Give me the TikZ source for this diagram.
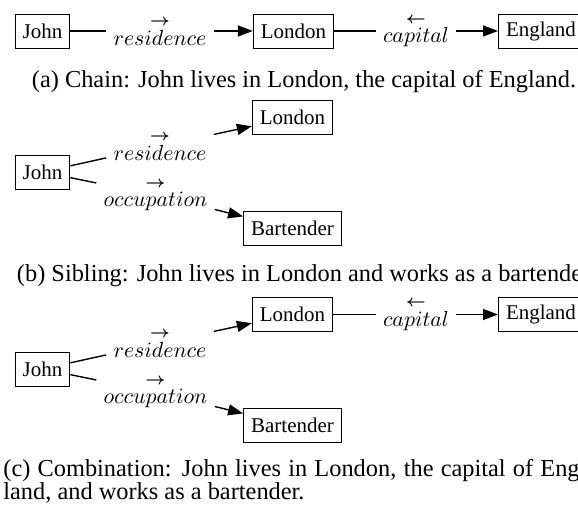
\documentclass[tikz,border=0pt]{standalone}
\usepackage{amsmath}
\usepackage{fontspec}
\setmainfont{Liberation Serif}
\usetikzlibrary{arrows.meta}

\newcommand{\fwd}{\text{\fontsize{8.5}{9}\selectfont$\boldsymbol{\rightarrow}$}}
\newcommand{\bwd}{\text{\fontsize{8.5}{9}\selectfont$\boldsymbol{\leftarrow}$}}

\begin{document}
\begin{tikzpicture}[
    entity/.style={draw,line width=0.45pt,inner xsep=3.8pt,minimum height=17pt,font=\fontsize{10.5}{12}\selectfont},
    relation/.style={inner sep=3.5pt,font=\fontsize{10.5}{12}\selectfont},
    link/.style={line width=0.7pt},
    linkto/.style={line width=0.7pt,-{Triangle[length=7.5pt,width=5.5pt]}},
    caption/.style={anchor=base,inner sep=0pt,font=\fontsize{12.2}{12}\selectfont}]

  \def\f{*0.0176}

  \clip (0,0) rectangle (578\f,-508\f);

  \node[entity] (johnA) at (42.5\f,-31\f) {John};
  \node[relation] (resA) at (160\f,-31\f) {$\overset{\fwd}{residence}$};
  \node[entity] (londonA) at (293.5\f,-31\f) {London};
  \node[relation] (capA) at (416\f,-31\f) {$\overset{\bwd}{capital}$};
  \node[entity,anchor=west] (englandA) at (498\f,-31\f) {England};

  \draw[link] (johnA) -- (resA);
  \draw[linkto] (resA) -- (londonA);
  \draw[link] (londonA) -- (capA);
  \draw[linkto] (capA) -- (englandA);

  \node[caption] (capa) at (304\f,-88\f) {(a) Chain: John lives in London, the capital of England.};

  \node[entity] (johnB) at (42.5\f,-172\f) {John};
  \node[relation] (resB) at (160\f,-146\f) {$\overset{\fwd}{residence}$};
  \node[relation] (occB) at (155.5\f,-195\f) {$\overset{\fwd}{occupation}$};
  \node[entity] (londonB) at (292.5\f,-117.5\f) {London};
  \node[entity] (bartB) at (292.5\f,-228.5\f) {Bartender};

  \draw[link] (johnB) -- (resB);
  \draw[linkto] (resB) -- (londonB);
  \draw[link] (johnB) -- (occB);
  \draw[linkto] (occB) -- (bartB);

  \node[caption] (capb) at (306\f,-282\f) {(b) Sibling: John lives in London and works as a bartender.};

  \node[entity] (johnC) at (42.5\f,-369\f) {John};
  \node[relation] (resC) at (160\f,-343\f) {$\overset{\fwd}{residence}$};
  \node[relation] (occC) at (155.5\f,-392\f) {$\overset{\fwd}{occupation}$};
  \node[entity] (londonC) at (292.5\f,-314.5\f) {London};
  \node[relation] (capC) at (416\f,-314.5\f) {$\overset{\bwd}{capital}$};
  \node[entity,anchor=west] (englandC) at (498\f,-314.5\f) {England};
  \node[entity] (bartC) at (292.5\f,-425.5\f) {Bartender};

  \draw[link] (johnC) -- (resC);
  \draw[linkto] (resC) -- (londonC);
  \draw[link] (londonC) -- (capC);
  \draw[linkto] (capC) -- (englandC);
  \draw[link] (johnC) -- (occC);
  \draw[linkto] (occC) -- (bartC);

  \node[caption,anchor=base west,text width=10.28cm,align=justify] (capc) at (3\f,-476\f)
    {(c) Combination: John lives in London, the capital of Eng-\linebreak land, and works as a bartender.};
\end{tikzpicture}
\end{document}
